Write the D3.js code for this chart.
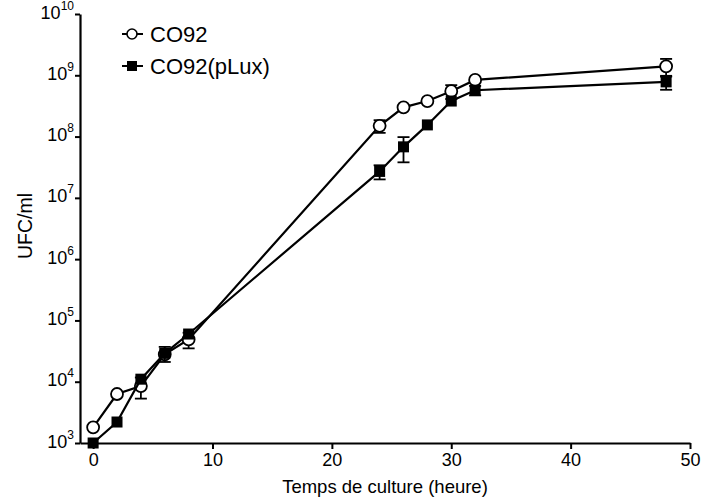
<!DOCTYPE html>
<html>
<head>
<meta charset="utf-8">
<script src="https://cdn.jsdelivr.net/npm/d3@7"></script>
<style>
  body { margin: 0; background: #fff; }
  svg { font-family: "Liberation Sans", Arial, sans-serif; }
</style>
</head>
<body>
<svg id="chart" width="705" height="499"></svg>
<script>
// data (UFC/ml, log scale)
const hours = [0, 2, 4, 6, 8, 24, 26, 28, 30, 32, 48];
const co92 = [1.8e3, 6.3e3, 8.5e3, 2.8e4, 4.9e4, 1.5e8, 3.0e8, 3.8e8, 5.5e8, 8.4e8, 1.4e9];
const co92Err = [0, 0, 3.2e3, 0, 1.4e4, 3.5e7, 0, 0, 1.4e8, 0, 4.5e8];
const pLux = [1.0e3, 2.2e3, 1.1e4, 2.9e4, 6.0e4, 2.7e7, 6.8e7, 1.55e8, 3.8e8, 5.7e8, 7.8e8];
const pLuxErr = [0, 0, 0, 8e3, 0, 7e6, 3e7, 0, 0, 1.0e8, 2.0e8];
const xTicks = [0, 10, 20, 30, 40, 50];
const yTicks = [1e3, 1e4, 1e5, 1e6, 1e7, 1e8, 1e9, 1e10];

const svg = d3.select('#chart');
const x = d3.scaleLinear().domain([-1.1, 50]).range([80, 690]);
const y = d3.scaleLog().domain([1e3, 1e10]).range([443, 14]);

// axes
const xAxis = svg.append('g')
  .attr('transform', 'translate(0,443)')
  .call(d3.axisBottom(x).tickValues(xTicks).tickSize(6).tickSizeOuter(0));
const yAxis = svg.append('g')
  .attr('transform', 'translate(80,0)')
  .call(d3.axisLeft(y).tickValues(yTicks).tickSize(5).tickSizeOuter(0).tickFormat(() => ''));

[xAxis, yAxis].forEach(a => {
  a.select('.domain').attr('stroke', '#000').attr('stroke-width', 2.2);
  a.selectAll('.tick line').attr('stroke', '#000').attr('stroke-width', 2);
});
xAxis.selectAll('.tick text').attr('font-size', 18).attr('fill', '#000').attr('dy', '0.8em')
  .attr('font-family', '"Liberation Sans", Arial, sans-serif');

// y tick labels as 10 with superscript exponent
yAxis.selectAll('.tick').each(function(d) {
  const t = d3.select(this).select('text')
    .attr('x', -6).attr('dy', '0.4em').attr('fill', '#000')
    .attr('font-family', '"Liberation Sans", Arial, sans-serif');
  t.text(null);
  t.append('tspan').attr('font-size', 18).text('10');
  t.append('tspan').attr('font-size', 12).attr('dy', '-0.75em').text(Math.round(Math.log10(d)));
});

// axis titles
svg.append('text')
  .attr('x', 385).attr('y', 493)
  .attr('text-anchor', 'middle').attr('font-size', 18.5)
  .text('Temps de culture (heure)');
svg.append('text')
  .attr('transform', 'translate(32,226) rotate(-90)')
  .attr('text-anchor', 'middle').attr('font-size', 19.5)
  .text('UFC/ml');

function series(vals, errs, filled) {
  const g = svg.append('g');
  // error bars
  const eb = g.selectAll('.err')
    .data(hours.map((h, i) => ({ h: h, v: vals[i], e: errs[i] })).filter(d => d.e > 0))
    .enter().append('g').attr('stroke', '#000').attr('stroke-width', 1.8);
  eb.append('line')
    .attr('x1', d => x(d.h)).attr('x2', d => x(d.h))
    .attr('y1', d => y(d.v + d.e)).attr('y2', d => y(Math.max(d.v - d.e, 1e3)));
  eb.append('line')
    .attr('x1', d => x(d.h) - 6).attr('x2', d => x(d.h) + 6)
    .attr('y1', d => y(d.v + d.e)).attr('y2', d => y(d.v + d.e));
  eb.append('line')
    .attr('x1', d => x(d.h) - 6).attr('x2', d => x(d.h) + 6)
    .attr('y1', d => y(Math.max(d.v - d.e, 1e3))).attr('y2', d => y(Math.max(d.v - d.e, 1e3)));

  g.append('path')
    .datum(hours.map((h, i) => [h, vals[i]]))
    .attr('fill', 'none').attr('stroke', '#000').attr('stroke-width', 2.2)
    .attr('d', d3.line().x(d => x(d[0])).y(d => y(d[1])));

  if (filled) {
    g.selectAll('.pt').data(hours).enter().append('rect')
      .attr('x', (d, i) => x(d) - 5.5).attr('y', (d, i) => y(vals[i]) - 5.5)
      .attr('width', 11).attr('height', 11).attr('fill', '#000');
  } else {
    g.selectAll('.pt').data(hours).enter().append('circle')
      .attr('cx', d => x(d)).attr('cy', (d, i) => y(vals[i])).attr('r', 6)
      .attr('fill', '#fff').attr('stroke', '#000').attr('stroke-width', 1.8);
  }
}

series(co92, co92Err, false);
series(pLux, pLuxErr, true);

// legend
const legend = [
  { label: 'CO92', filled: false, y: 34 },
  { label: 'CO92(pLux)', filled: true, y: 66 }
];
const lg = svg.append('g').selectAll('g').data(legend).enter().append('g');
lg.append('line').attr('x1', 122).attr('x2', 143).attr('y1', d => d.y).attr('y2', d => d.y)
  .attr('stroke', '#000').attr('stroke-width', 2);
lg.filter(d => !d.filled).append('circle').attr('cx', 132).attr('cy', d => d.y).attr('r', 5)
  .attr('fill', '#fff').attr('stroke', '#000').attr('stroke-width', 1.6);
lg.filter(d => d.filled).append('rect').attr('x', 127).attr('y', d => d.y - 5)
  .attr('width', 10).attr('height', 10).attr('fill', '#000');
lg.append('text').attr('x', 150).attr('y', d => d.y).attr('dy', '0.36em')
  .attr('font-size', 22).text(d => d.label);
</script>
</body>
</html>
